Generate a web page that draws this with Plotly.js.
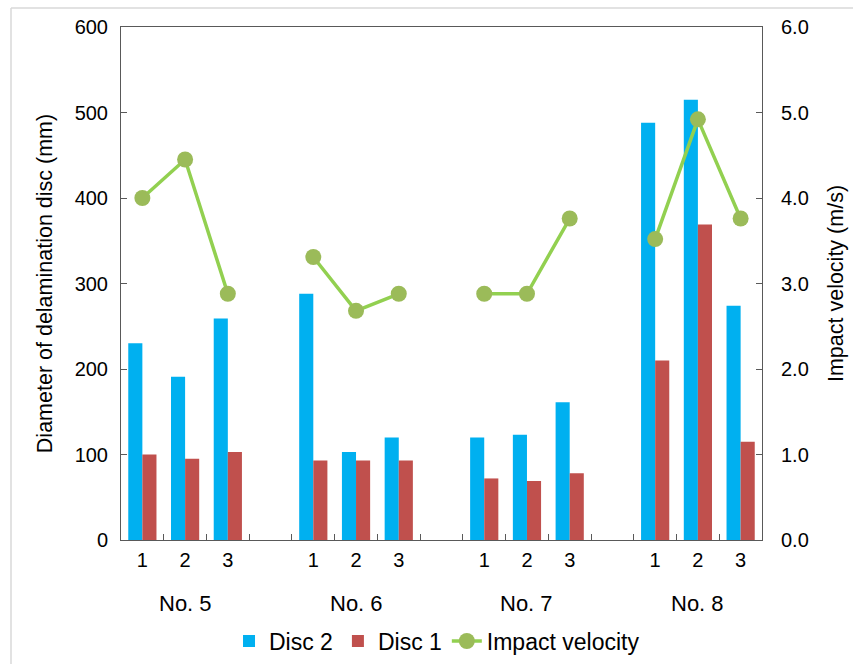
<!DOCTYPE html>
<html>
<head>
<meta charset="utf-8">
<script src="https://cdn.plot.ly/plotly-3.0.1.min.js"></script>
<style>
  html, body { margin: 0; padding: 0; background: #ffffff; }
  #chart { width: 853px; height: 664px; }
</style>
</head>
<body>
<div id="chart"></div>
<script>
// ---- data ----
const groups = ['No. 5', 'No. 6', 'No. 7', 'No. 8'];
const specimens = ['1', '2', '3'];
const disc2 = [230, 191, 259, 288, 103, 120, 120, 123, 161, 488, 515, 274];
const disc1 = [100, 95, 103, 93, 93, 93, 72, 69, 78, 210, 369, 115];
const velocity = [4.0, 4.45, 2.88, 3.31, 2.68, 2.88, 2.88, 2.88, 3.76, 3.52, 4.92, 3.76];

// ---- build slot positions (3 specimens + 1 empty slot per group) ----
const slotsPerGroup = specimens.length + 1;
const xs = [], tickText = [];
groups.forEach((g, gi) => specimens.forEach((s, si) => {
  xs.push(gi * slotsPerGroup + si);
  tickText.push(s);
}));
const nSlots = groups.length * slotsPerGroup - 1;
const boundaries = [];
for (let i = 0; i <= nSlots; i++) boundaries.push(i - 0.5);

// line with breaks between groups
const lineX = [], lineY = [];
groups.forEach((g, gi) => {
  specimens.forEach((s, si) => {
    const k = gi * specimens.length + si;
    lineX.push(xs[k]); lineY.push(velocity[k]);
  });
  if (gi < groups.length - 1) { lineX.push(gi * slotsPerGroup + specimens.length); lineY.push(null); }
});

const axisColor = '#595959';
const font = {family: 'Liberation Sans, Arial, sans-serif', color: '#000000'};
const f = (size) => Object.assign({}, font, {size: size});

const traces = [
  {type: 'bar', name: 'Disc 2', x: xs, y: disc2, marker: {color: '#00B0F0'}},
  {type: 'bar', name: 'Disc 1', x: xs, y: disc1, marker: {color: '#C0504D'}},
  {type: 'scatter', mode: 'lines+markers', name: 'Impact velocity', x: lineX, y: lineY,
   yaxis: 'y2', connectgaps: false,
   line: {color: '#92D050', width: 3.5},
   marker: {color: '#9BBB59', size: 16}},
  // invisible carrier so the label axis (x2) is drawn
  {type: 'scatter', mode: 'markers', x: xs, y: disc1, xaxis: 'x2', yaxis: 'y',
   marker: {size: 1, opacity: 0}, showlegend: false, hoverinfo: 'skip'}
];

const annotations = groups.map((g, gi) => ({
  text: g, xref: 'x', yref: 'paper', x: gi * slotsPerGroup + 1, y: -0.123,
  yanchor: 'middle', xanchor: 'center', showarrow: false, font: f(22)
}));

const layout = {
  width: 853, height: 664,
  margin: {l: 121, r: 91, t: 27, b: 124, autoexpand: false},
  paper_bgcolor: '#ffffff', plot_bgcolor: '#ffffff',
  font: f(20),
  barmode: 'group', bargap: 0.34, bargroupgap: 0,
  showlegend: true,
  legend: {orientation: 'h', x: 0.493, xanchor: 'center', y: -0.197, yanchor: 'middle',
           font: f(23), tracegroupgap: 0},
  // main x axis: frame + boundary ticks
  xaxis: {
    range: [-0.5, nSlots - 0.5], tickmode: 'array', tickvals: boundaries,
    ticktext: boundaries.map(() => ''),
    ticks: 'inside', ticklen: 6, tickcolor: axisColor, showticklabels: false,
    showline: true, mirror: true, linecolor: axisColor, linewidth: 1,
    showgrid: false, zeroline: false
  },
  // label axis: specimen numbers
  xaxis2: {
    overlaying: 'x', anchor: 'y', side: 'bottom',
    range: [-0.5, nSlots - 0.5], tickmode: 'array', tickvals: xs, ticktext: tickText,
    ticks: '', ticklabelstandoff: 6, showline: false, showgrid: false, zeroline: false,
    tickfont: f(20)
  },
  yaxis: {
    range: [0, 600], dtick: 100, ticks: 'inside', ticklen: 6, tickcolor: axisColor,
    ticklabelstandoff: 8,
    showline: true, linecolor: axisColor, linewidth: 1, showgrid: false, zeroline: false,
    title: {text: 'Diameter of delamination disc (mm)', font: f(21.5), standoff: 16},
    tickfont: f(20)
  },
  yaxis2: {
    range: [0, 6], dtick: 1, tickformat: '.1f', overlaying: 'y', side: 'right',
    ticks: 'inside', ticklen: 6, tickcolor: axisColor, ticklabelstandoff: 14,
    showline: true, linecolor: axisColor, linewidth: 1, showgrid: false, zeroline: false,
    title: {text: 'Impact velocity (m/s)', font: f(21.5), standoff: 20},
    tickfont: f(20)
  },
  annotations: annotations,
  shapes: [
    {type: 'line', xref: 'paper', yref: 'paper', x0: -0.1716, x1: 1.2, y0: 1.037, y1: 1.037,
     line: {color: '#d9d9d9', width: 1.5}},
    {type: 'line', xref: 'paper', yref: 'paper', x0: -0.1716, x1: -0.1716, y0: 1.037, y1: -0.3,
     line: {color: '#d9d9d9', width: 1.5}}
  ]
};

Plotly.newPlot('chart', traces, layout, {displayModeBar: false, staticPlot: true});
</script>
</body>
</html>
